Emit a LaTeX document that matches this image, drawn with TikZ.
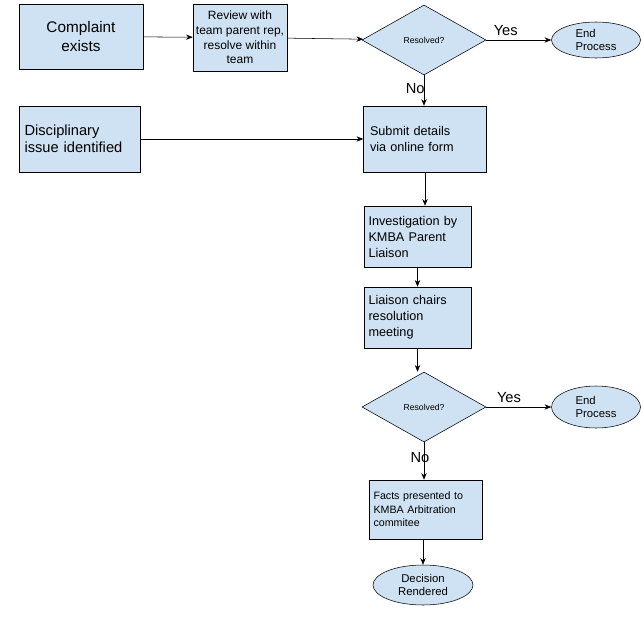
\documentclass[tikz,border=0pt]{standalone}
\usepackage{fontspec}
\setmainfont{Liberation Sans}
\usetikzlibrary{shapes.geometric,arrows.meta}
\definecolor{boxblue}{HTML}{CFE2F3}
\begin{document}
\begin{tikzpicture}[x=0.75pt, y=-0.75pt,
        box/.style={draw, rectangle, fill=boxblue, inner sep=2pt},
        dec/.style={draw, diamond, fill=boxblue, aspect=1.77, minimum width=124*0.75pt, minimum height=70*0.75pt, inner sep=0pt, font=\fontsize{6.5}{8}\selectfont},
        term/.style={draw, ellipse, fill=boxblue, inner sep=0pt, font=\fontsize{8.5}{10}\selectfont, align=left},
        lbl/.style={font=\fontsize{11}{13}\selectfont},
        arr/.style={-{Stealth[length=5pt,width=4pt]}}]
    \useasboundingbox (0,0) rectangle (643,636);

    % first row
    \node[box, minimum width=124*0.75pt, minimum height=65*0.75pt, align=center, font=\fontsize{11.5}{14}\selectfont] (complaint) at (81,36.5) {Complaint\\exists};
    \node[box, minimum width=94*0.75pt, minimum height=67*0.75pt, align=center, font=\fontsize{9}{11}\selectfont] (review) at (240,37.5) {Review with\\team parent rep,\\resolve within\\team};
    \node[dec] (res1) at (424,40) {Resolved?};
    \node[term, minimum width=89*0.75pt, minimum height=36*0.75pt] (end1) at (596,40) {End\\Process};

    % second row
    \node[box, minimum width=121*0.75pt, minimum height=66*0.75pt, align=left, text width=110*0.75pt, font=\fontsize{11}{13}\selectfont] (disc) at (79.5,139) {Disciplinary\\issue identified};
    \node[box, minimum width=123*0.75pt, minimum height=66*0.75pt, align=left, text width=110*0.75pt, font=\fontsize{9.5}{12}\selectfont] (submit) at (425,139) {Submit details\\via online form};

    % investigation
    \node[box, minimum width=107*0.75pt, minimum height=61*0.75pt, align=left, text width=98*0.75pt, font=\fontsize{9.5}{12}\selectfont] (invest) at (417.5,236.5) {Investigation by\\KMBA Parent\\Liaison};
    \node[box, minimum width=107*0.75pt, minimum height=61*0.75pt, align=left, text width=98*0.75pt, font=\fontsize{9.5}{12}\selectfont] (chairs) at (417.5,317.5) {Liaison chairs\\resolution\\meeting};
    \node[dec] (res2) at (424,407) {Resolved?};
    \node[term, minimum width=89*0.75pt, minimum height=42*0.75pt] (end2) at (596,407) {End\\Process};

    % arbitration
    \node[box, minimum width=113*0.75pt, minimum height=59*0.75pt, align=left, text width=104*0.75pt, font=\fontsize{8}{10}\selectfont] (facts) at (425.5,509.5) {Facts presented to\\KMBA Arbitration\\commitee};
    \node[term, minimum width=100*0.75pt, minimum height=40*0.75pt, align=center] (decision) at (423,585) {Decision\\Rendered};

    % connections
    \draw[arr] (complaint) -- (review);
    \draw[arr] (review) -- (res1);
    \draw[arr] (res1) -- node[lbl, above, pos=0.3] {Yes} (end1);
    \draw[arr] (res1) -- node[lbl, left, pos=0.45, xshift=4pt] {No} (res1 |- submit.north);
    \draw[arr] (disc) -- (submit);
    \draw[arr] (submit.south) -- (submit.south |- invest.north);
    \draw[arr] (invest.south) -- (invest.south |- chairs.north);
    \draw[arr] (chairs.south) -- (chairs.south |- res2.north);
    \draw[arr] (res2) -- node[lbl, above, pos=0.35] {Yes} (end2);
    \draw[arr] (res2) -- node[lbl, pos=0.4, xshift=-3pt] {No} (res2 |- facts.north);
    \draw[arr] (facts.south -| decision) -- (decision);
\end{tikzpicture}
\end{document}
